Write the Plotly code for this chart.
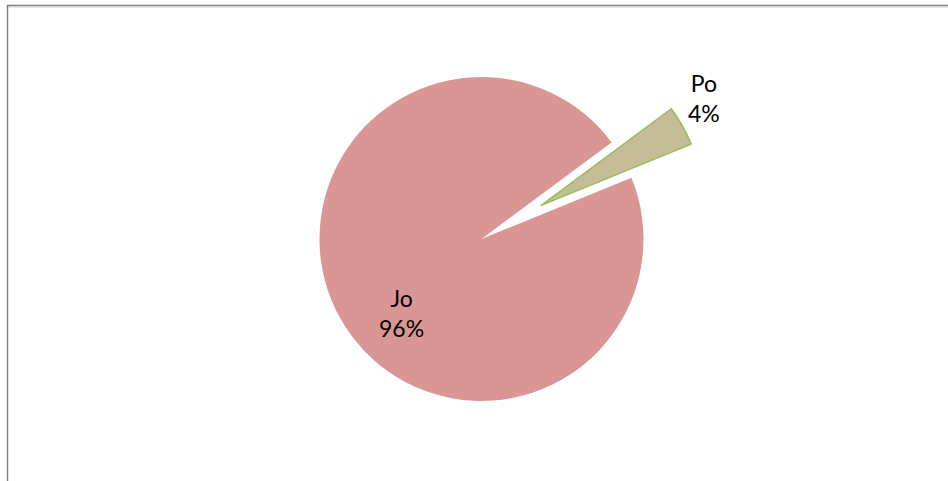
import plotly.graph_objects as go

labels = ["Jo", "Po"]
values = [96, 4]
colors = ["#D99694", "#C4BD97"]
line_colors = ["#D99694", "#9BBB59"]
line_widths = [0, 1.5]
pulls = [0, 0.423]

W, H = 948, 481
cx, cy, r = 481.5, 239, 162
half = r * (1 + max(pulls))

fig = go.Figure(go.Pie(
    labels=labels,
    values=values,
    sort=False,
    direction="clockwise",
    rotation=67.8,
    pull=pulls,
    marker=dict(colors=colors, line=dict(color=line_colors, width=line_widths)),
    textinfo="none",
    showlegend=False,
    hoverinfo="label+percent",
    automargin=False,
    domain=dict(x=[(cx - half) / W, (cx + half) / W],
                y=[(H - cy - half) / H, (H - cy + half) / H]),
))

total = sum(values)
label_pos = [(401, 313), (704, 98)]
annotations = []
for lab, v, (px, py) in zip(labels, values, label_pos):
    annotations.append(dict(
        text=f"{lab}<br>{round(100 * v / total)}%",
        x=px / W, y=1 - py / H, xref="paper", yref="paper",
        xanchor="center", yanchor="middle", showarrow=False,
        align="center",
        font=dict(family="Lato, Open Sans, sans-serif", size=23, color="#000000"),
    ))

border = "#808080"
fig.update_layout(
    width=W, height=H,
    autosize=False,
    margin=dict(l=0, r=0, t=0, b=0, pad=0, autoexpand=False),
    paper_bgcolor="white",
    plot_bgcolor="white",
    annotations=annotations,
    shapes=[
        dict(type="line", xref="paper", yref="paper",
             x0=7.5 / W, x1=1.01, y0=1 - 7.2 / H, y1=1 - 7.2 / H,
             line=dict(color="#dcdcdc", width=1)),
        dict(type="line", xref="paper", yref="paper",
             x0=7 / W, x1=1.01, y0=1 - 5.5 / H, y1=1 - 5.5 / H,
             line=dict(color=border, width=1.5)),
        dict(type="line", xref="paper", yref="paper",
             x0=7.5 / W, x1=7.5 / W, y0=-0.01, y1=1 - 5 / H,
             line=dict(color=border, width=1.5)),
    ],
)

fig.write_html("out.html", config=dict(responsive=False, displayModeBar=False),
               post_script="document.body.style.margin='0px';")
